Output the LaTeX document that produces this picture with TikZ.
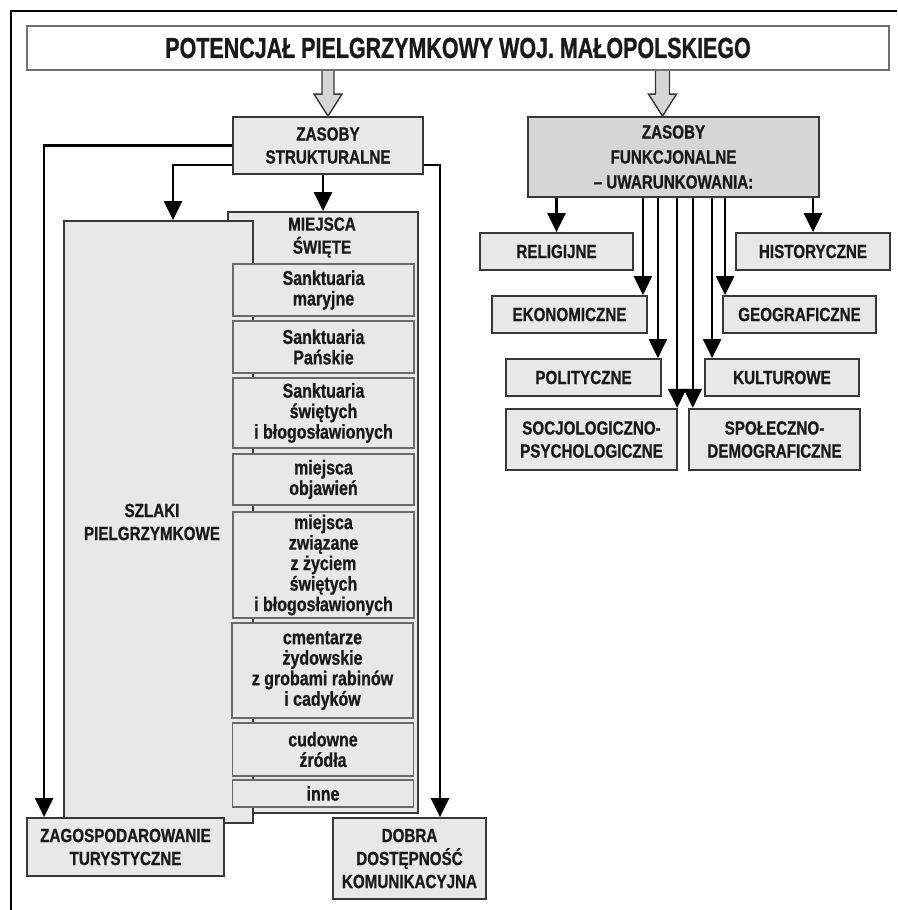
\documentclass[tikz,border=0pt]{standalone}
\usepackage{fontspec}
\setmainfont{Liberation Sans}
\newfontfamily\titlef{Liberation Sans}[FakeStretch=0.74,FakeBold=0.8]
\newfontfamily\capf{Liberation Sans}[FakeStretch=0.80,FakeBold=0.8]
\usetikzlibrary{arrows.meta,calc}
\definecolor{boxfill}{HTML}{E8E8E8}
\definecolor{darkfill}{HTML}{D6D6D6}
\definecolor{edge}{HTML}{383838}
\definecolor{lightedge}{HTML}{6A6A6A}
\definecolor{titleedge}{HTML}{707070}
\definecolor{ink}{HTML}{1A1A1A}
\tikzset{
  box/.style={draw=edge, line width=1.8pt, fill=boxfill, inner sep=0pt, align=center, text=ink,
    font={\capf\bfseries\fontsize{19}{23}\selectfont}},
  thickbox/.style={box, line width=2.4pt},
  subbox/.style={draw=lightedge, line width=1.3pt, fill=boxfill, inner sep=0pt, align=center, text=ink,
    minimum width=181pt, font={\capf\bfseries\fontsize{20}{20.5}\selectfont}},
  txt/.style={inner sep=0pt, align=center, text=ink, font={\capf\bfseries\fontsize{19}{23}\selectfont}},
  titlebox/.style={draw=titleedge, line width=2pt, fill=white, inner sep=0pt, text=ink,
    font={\titlef\bfseries\fontsize{29}{30}\selectfont}},
  arr/.style={draw=black, line width=2.4pt, -{Triangle[width=18pt,length=19pt]}},
  hollow/.style={draw=edge, fill=darkfill, line width=1.4pt, line join=miter},
}
\begin{document}
\begin{tikzpicture}[x=1pt,y=-1pt]
\useasboundingbox (0,0) rectangle (897,910);
\fill[white] (0,0) rectangle (897,910);
\draw[line width=2pt] (11,910) -- (11,11) -- (897,11);

% top
\node[titlebox, minimum width=862pt, minimum height=44pt] (title) at (458,48) {POTENCJAŁ PIELGRZYMKOWY WOJ. MAŁOPOLSKIEGO};
\node[box, minimum width=190pt, minimum height=57pt] (zs) at (328,145.5) {ZASOBY\\STRUKTURALNE};
\node[box, fill=darkfill, minimum width=291pt, minimum height=80pt,
  font={\capf\bfseries\fontsize{19}{25}\selectfont}] (zf) at (673.5,157) {ZASOBY\\FUNKCJONALNE\\– UWARUNKOWANIA:};

% hollow arrows
\coordinate (h1) at (title.south -| zs.north);
\draw[hollow] ($(h1)+(-6,0)$) -- ($(zs.north)+(-6,-22)$) -- ($(zs.north)+(-14,-22)$) -- (zs.north)
  -- ($(zs.north)+(14,-22)$) -- ($(zs.north)+(6,-22)$) -- ($(h1)+(6,0)$);
\coordinate (h2t) at ($(zf.north)+(-11,0)$);
\coordinate (h2) at (title.south -| h2t);
\draw[hollow] ($(h2)+(-7,0)$) -- ($(h2t)+(-7,-22)$) -- ($(h2t)+(-14,-22)$) -- (h2t)
  -- ($(h2t)+(14,-22)$) -- ($(h2t)+(7,-22)$) -- ($(h2)+(7,0)$);

% left structure
\node[box, minimum width=190pt, minimum height=601pt] (miejsca) at (323,512.5) {};
\node[txt] (miejscatxt) at (322,237.5) {MIEJSCA\\ŚWIĘTE};
\node[box, minimum width=189pt, minimum height=602pt] (szlaki) at (158.5,522) {};
\node[txt] (szlakitxt) at (152,522) {SZLAKI\\PIELGRZYMKOWE};

\node[subbox, minimum height=52pt] (s1) at (323.5,290) {Sanktuaria\\maryjne};
\node[subbox, minimum height=52pt] (s2) at (323.5,347) {Sanktuaria\\Pańskie};
\node[subbox, minimum height=70pt] (s3) at (323.5,413) {Sanktuaria\\świętych\\i błogosławionych};
\node[subbox, minimum height=51pt] (s4) at (323.5,479.5) {miejsca\\objawień};
\node[subbox, minimum height=106pt] (s5) at (323.5,565) {miejsca\\związane\\z życiem\\świętych\\i błogosławionych};
\node[subbox, minimum height=95pt] (s6) at (322.5,670.5) {cmentarze\\żydowskie\\z grobami rabinów\\i cadyków};
\node[subbox, minimum height=53pt] (s7) at (323,749.5) {cudowne\\źródła};
\node[subbox, minimum height=27pt] (s8) at (323,793.5) {inne};

\node[box, minimum width=197pt, minimum height=58pt] (zag) at (125.5,847) {ZAGOSPODAROWANIE\\TURYSTYCZNE};
\node[box, minimum width=153pt, minimum height=81pt] (dobra) at (409.5,858.5) {DOBRA\\DOSTĘPNOŚĆ\\KOMUNIKACYJNA};

\draw[arr] (zs.west) -| ([xshift=18pt]zag.north west);
\draw[arr] ([yshift=10pt]zs.south west) -| ([xshift=14.5pt]szlaki.north);
\draw[arr] (zs.south -| miejsca.north) -- (miejsca.north);
\draw[arr] ([yshift=10pt]zs.south east) -| ([xshift=30.5pt]dobra.north);

% right structure
\node[box, minimum width=153pt, minimum height=37pt] (rel) at (556.5,251.5) {RELIGIJNE};
\node[box, minimum width=154pt, minimum height=37pt] (hist) at (813,251.5) {HISTORYCZNE};
\node[box, minimum width=155pt, minimum height=37pt] (ekon) at (569.5,314.5) {EKONOMICZNE};
\node[box, minimum width=153pt, minimum height=37pt] (geo) at (799.5,314.5) {GEOGRAFICZNE};
\node[box, minimum width=155pt, minimum height=37pt] (pol) at (583.5,377.5) {POLITYCZNE};
\node[box, minimum width=154pt, minimum height=37pt] (kult) at (782,377.5) {KULTUROWE};
\node[thickbox, minimum width=171pt, minimum height=61pt] (soc) at (591.5,439.5) {SOCJOLOGICZNO-\\PSYCHOLOGICZNE};
\node[thickbox, minimum width=171pt, minimum height=61pt] (spol) at (774.5,439.5) {SPOŁECZNO-\\DEMOGRAFICZNE};

\coordinate (ekt) at ([xshift=-5pt]ekon.north east);
\coordinate (polt) at ([xshift=-4pt]pol.north east);
\coordinate (soct) at ([xshift=-1pt]soc.north east);
\coordinate (spolt) at ([xshift=5pt]spol.north west);
\coordinate (kultt) at ([xshift=8pt]kult.north west);
\coordinate (geot) at ([xshift=3pt]geo.north west);

\draw[arr] (zf.south -| rel.north) -- (rel.north);
\draw[arr] (zf.south -| ekt) -- (ekt);
\draw[arr] (zf.south -| polt) -- (polt);
\draw[arr] (zf.south -| soct) -- (soct);
\draw[arr] (zf.south -| spolt) -- (spolt);
\draw[arr] (zf.south -| kultt) -- (kultt);
\draw[arr] (zf.south -| geot) -- (geot);
\draw[arr] (zf.south -| hist.north) -- (hist.north);
\end{tikzpicture}
\end{document}
